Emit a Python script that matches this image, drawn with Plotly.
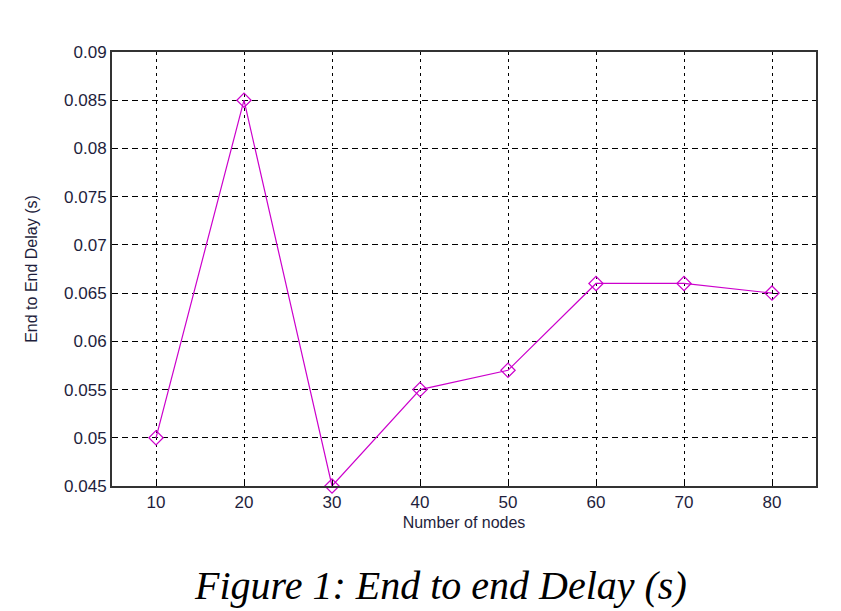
import plotly.graph_objects as go

# data
nodes = [10, 20, 30, 40, 50, 60, 70, 80]
delay = [0.050, 0.085, 0.045, 0.055, 0.057, 0.066, 0.066, 0.065]
x_ticks = [10, 20, 30, 40, 50, 60, 70, 80]
y_ticks = [0.045, 0.05, 0.055, 0.06, 0.065, 0.07, 0.075, 0.08, 0.085, 0.09]

fig = go.Figure()
fig.add_trace(go.Scatter(
    x=nodes, y=delay,
    mode="lines+markers",
    line=dict(color="#cc00cc", width=1.2),
    marker=dict(symbol="diamond-open", size=11, color="#cc00cc", line=dict(width=1.2)),
    cliponaxis=False,
    showlegend=False,
))

txt_color = "#1e1e3c"
axis_font = dict(family="Liberation Sans, Arial", size=17, color=txt_color)

fig.update_xaxes(
    range=[5, 85], tickvals=x_ticks, ticktext=[str(v) for v in x_ticks],
    showgrid=True, gridcolor="black", gridwidth=1, griddash="3px,4px",
    showline=True, linecolor="#333", linewidth=2, mirror=True,
    ticks="inside", ticklen=6, tickcolor="black",
    zeroline=False, tickfont=axis_font,
    title=dict(text="Number of nodes", font=dict(family="Liberation Sans, Arial", size=16, color=txt_color), standoff=5),
)
fig.update_yaxes(
    range=[0.045, 0.09], tickvals=y_ticks, ticktext=[("%g" % v) for v in y_ticks],
    showgrid=True, gridcolor="black", gridwidth=1, griddash="6px,4px",
    showline=True, linecolor="#333", linewidth=2, mirror=True,
    ticks="inside", ticklen=6, tickcolor="black",
    zeroline=False, tickfont=axis_font,
    title=dict(text="End to End Delay (s)", font=dict(family="Liberation Sans, Arial", size=16, color=txt_color), standoff=22),
)

# caption under the chart
fig.add_annotation(
    text="<i>Figure 1: End to end Delay (s)</i>",
    xref="paper", yref="paper", x=0.466, y=-0.285,
    xanchor="center", yanchor="bottom", showarrow=False,
    font=dict(family="Liberation Serif, Times New Roman", size=40, color="black"),
)

# page body adds an 8px margin, so the figure is sized to fit the window
fig.update_layout(
    width=833, height=603,
    margin=dict(l=104, r=25, t=44, b=125),
    plot_bgcolor="white", paper_bgcolor="white",
)

fig.write_html("out.html")
